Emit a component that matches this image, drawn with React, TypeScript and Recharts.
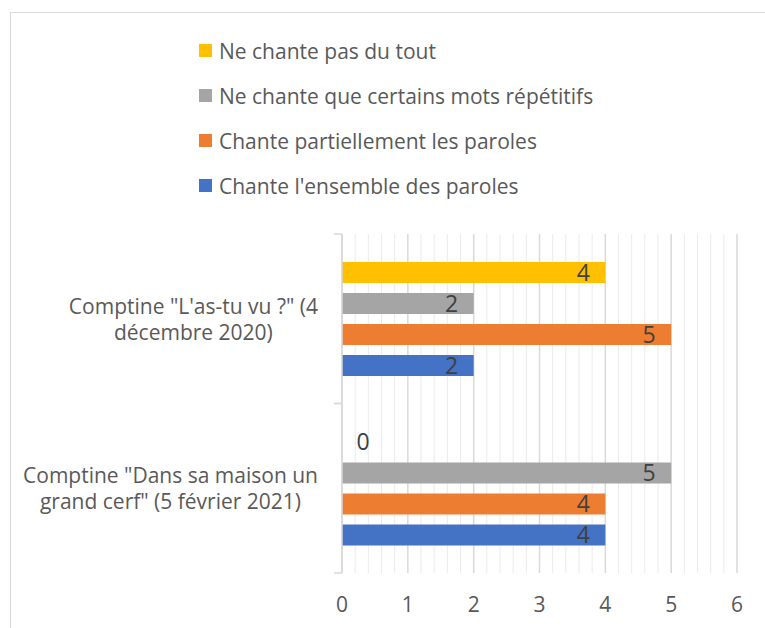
import React from 'react';
import { BarChart, Bar, XAxis, YAxis, CartesianGrid, Legend, LabelList } from 'recharts';

// top to bottom, as drawn
const categories = [
  'Comptine "L\'as-tu vu ?" (4\ndécembre 2020)',
  'Comptine "Dans sa maison un\ngrand cerf" (5 février 2021)',
];
const seriesNames = [
  'Ne chante pas du tout',
  'Ne chante que certains mots répétitifs',
  'Chante partiellement les paroles',
  "Chante l'ensemble des paroles",
];
const pasDuTout = [4, 0];
const certainsMots = [2, 5];
const partiellement = [5, 4];
const ensemble = [2, 4];

const xTicks = [0, 1, 2, 3, 4, 5, 6];
const minorTicks = [
  0.2, 0.4, 0.6, 0.8, 1.2, 1.4, 1.6, 1.8, 2.2, 2.4, 2.6, 2.8,
  3.2, 3.4, 3.6, 3.8, 4.2, 4.4, 4.6, 4.8, 5.2, 5.4, 5.6, 5.8,
];

const data = categories.map((category, i) => ({
  category,
  pasDuTout: pasDuTout[i],
  certainsMots: certainsMots[i],
  partiellement: partiellement[i],
  ensemble: ensemble[i],
}));

const FONT = "'Open Sans', sans-serif";
const TEXT = '#595959';
const GRID = '#d9d9d9';
const TICK_MARGIN = 8;
const LABEL_GAP = 16;

function CategoryTick(props: any) {
  const { x, y, payload, height, visibleTicksCount } = props;
  const axisX = x + TICK_MARGIN;
  const band = height && visibleTicksCount ? height / visibleTicksCount : 0;
  return (
    <g>
      <foreignObject x={x - LABEL_GAP - 330} y={y - 40} width={330} height={80}>
        <div style={{ display: 'flex', justifyContent: 'flex-end', alignItems: 'center', height: '100%' }}>
          <div
            style={{
              textAlign: 'center',
              whiteSpace: 'pre',
              fontFamily: FONT,
              fontSize: 21,
              lineHeight: '26px',
              color: TEXT,
            }}
          >
            {String(payload.value)}
          </div>
        </div>
      </foreignObject>
      {band > 0 && (
        <>
          <line x1={axisX - 8} x2={axisX} y1={y - band / 2} y2={y - band / 2} stroke={GRID} strokeWidth={1.5} />
          <line x1={axisX - 8} x2={axisX} y1={y + band / 2} y2={y + band / 2} stroke={GRID} strokeWidth={1.5} />
        </>
      )}
    </g>
  );
}

function ValueLabel(props: any) {
  const { x, y, width, height, value } = props;
  const zero = Number(value) === 0;
  const cx = zero ? x + 21 : x + width - 22;
  return (
    <text x={cx} y={y + height / 2 + 8} textAnchor="middle" fill="#404040" fontSize={23} fontFamily={FONT}>
      {value}
    </text>
  );
}

function LegendList(props: any) {
  const items = [...(props.payload || [])].sort(
    (a: any, b: any) => seriesNames.indexOf(a.value) - seriesNames.indexOf(b.value),
  );
  return (
    <div style={{ fontFamily: FONT, fontSize: 21, color: TEXT }}>
      {items.map((p: any) => (
        <div key={p.value} style={{ display: 'flex', alignItems: 'center', height: 45, whiteSpace: 'nowrap' }}>
          <span style={{ width: 13, height: 13, background: p.color, marginRight: 7, display: 'inline-block' }} />
          <span>{p.value}</span>
        </div>
      ))}
    </div>
  );
}

export default function App() {
  return (
    <div style={{ position: 'relative', width: 765, height: 628, overflow: 'hidden', background: '#fff' }}>
      <style>{'body{margin:0}'}</style>
      <div style={{ position: 'absolute', left: 10, top: 12, width: 800, height: 700, border: `1.5px solid ${GRID}` }} />
      <div style={{ position: 'absolute', left: 0, top: 0 }}>
        <BarChart
          layout="vertical"
          width={765}
          height={628}
          data={data}
          barGap={10}
          margin={{ top: 234, right: 28, bottom: 0, left: 0 }}
        >
          <CartesianGrid horizontal={false} stroke="#ebebeb" strokeWidth={1} verticalValues={minorTicks} />
          <CartesianGrid horizontal={false} stroke={GRID} strokeWidth={1.5} verticalValues={xTicks} />
          <XAxis
            type="number"
            domain={[0, 6]}
            ticks={xTicks}
            interval={0}
            axisLine={false}
            tickLine={false}
            tickSize={0}
            tickMargin={24}
            height={55}
            tick={{ fill: TEXT, fontSize: 21, fontFamily: FONT }}
          />
          <YAxis
            type="category"
            dataKey="category"
            width={342}
            interval={0}
            tickLine={false}
            tickSize={0}
            tickMargin={TICK_MARGIN}
            axisLine={{ stroke: GRID, strokeWidth: 1.5 }}
            tick={<CategoryTick />}
          />
          <Legend
            layout="vertical"
            align="center"
            verticalAlign="middle"
            wrapperStyle={{ top: 28, left: 199, width: 'auto' }}
            content={<LegendList />}
          />
          <Bar dataKey="pasDuTout" name={seriesNames[0]} fill="#FFC000" barSize={21} minPointSize={0.01} isAnimationActive={false}>
            <LabelList dataKey="pasDuTout" content={<ValueLabel />} />
          </Bar>
          <Bar dataKey="certainsMots" name={seriesNames[1]} fill="#A5A5A5" barSize={21} isAnimationActive={false}>
            <LabelList dataKey="certainsMots" content={<ValueLabel />} />
          </Bar>
          <Bar dataKey="partiellement" name={seriesNames[2]} fill="#ED7D31" barSize={21} isAnimationActive={false}>
            <LabelList dataKey="partiellement" content={<ValueLabel />} />
          </Bar>
          <Bar dataKey="ensemble" name={seriesNames[3]} fill="#4472C4" barSize={21} isAnimationActive={false}>
            <LabelList dataKey="ensemble" content={<ValueLabel />} />
          </Bar>
        </BarChart>
      </div>
    </div>
  );
}
